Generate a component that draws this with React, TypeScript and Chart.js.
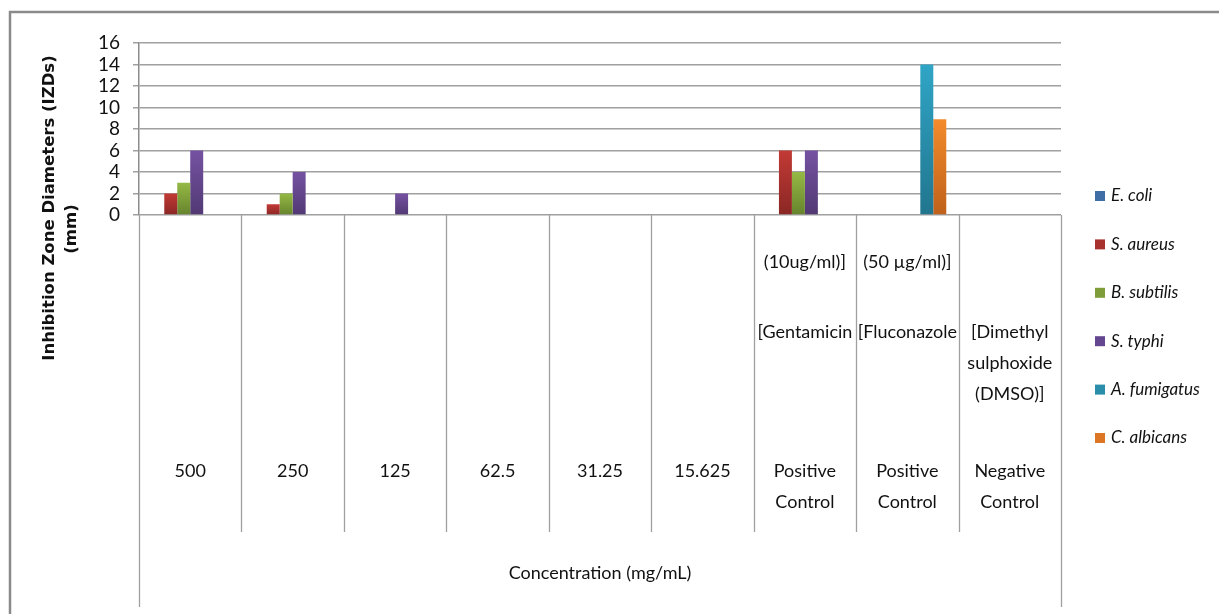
import React, { useEffect, useRef } from 'react';
import { Chart, registerables } from 'chart.js';

Chart.register(...registerables);

// ---------- data ----------
const categories = ['500', '250', '125', '62.5', '31.25', '15.625', 'Positive Control', 'Positive Control', 'Negative Control'];
const categoryLines: string[][] = [['500'], ['250'], ['125'], ['62.5'], ['31.25'], ['15.625'], ['Positive', 'Control'], ['Positive', 'Control'], ['Negative', 'Control']];
const agentLines: string[][] = [[], [], [], [], [], [], ['[Gentamicin'], ['[Fluconazole'], ['[Dimethyl', 'sulphoxide', '(DMSO)]']];
const doseLabels = ['', '', '', '', '', '', '(10ug/ml)]', '(50 µg/ml)]', ''];
const xGroupTitle = 'Concentration (mg/mL)';
const yTitleLines = ['Inhibition Zone Diameters (IZDs)', '(mm)'];
const yTicks = [0, 2, 4, 6, 8, 10, 12, 14, 16];

const seriesNames = ['E. coli', 'S. aureus', 'B. subtilis', 'S. typhi', 'A. fumigatus', 'C. albicans'];
const eColi = [0, 0, 0, 0, 0, 0, 0, 0, 0];
const sAureus = [2, 1, 0, 0, 0, 0, 6, 0, 0];
const bSubtilis = [3, 2, 0, 0, 0, 0, 4, 0, 0];
const sTyphi = [6, 4, 2, 0, 0, 0, 6, 0, 0];
const aFumigatus = [0, 0, 0, 0, 0, 0, 0, 14, 0];
const cAlbicans = [0, 0, 0, 0, 0, 0, 0, 8.9, 0];
const seriesValues = [eColi, sAureus, bSubtilis, sTyphi, aFumigatus, cAlbicans];

// ---------- styles ----------
const seriesTop = ['#4f81bd', '#c23a35', '#95b945', '#7552a2', '#30a5c6', '#f38b2c'];
const seriesBottom = ['#345a88', '#8a2724', '#66832d', '#513974', '#21758e', '#bf611b'];
const seriesMid = ['#3f6ea7', '#a8322e', '#7f9e3a', '#644690', '#2a8eab', '#dc7524'];

const FONT = 'Lato';
const TEXT = '#111111';
const LINE = '#a0a0a0';

const decorPlugin = {
  id: 'decor',
  afterDraw(chart: any) {
    const ctx: CanvasRenderingContext2D = chart.ctx;
    const area = chart.chartArea;
    const xs = chart.scales.x;
    const n = categories.length;
    ctx.save();

    // outer frame
    ctx.strokeStyle = '#8a8a8a';
    ctx.lineWidth = 2.5;
    ctx.beginPath();
    ctx.moveTo(10, 640);
    ctx.lineTo(10, 12);
    ctx.lineTo(1240, 12);
    ctx.stroke();

    // category separators
    const bounds: number[] = [area.left];
    for (let i = 0; i < n - 1; i++) {
      bounds.push((xs.getPixelForValue(i) + xs.getPixelForValue(i + 1)) / 2);
    }
    bounds.push(area.right);
    ctx.strokeStyle = LINE;
    ctx.lineWidth = 1.3;
    bounds.forEach((b, i) => {
      const outer = i === 0 || i === bounds.length - 1;
      ctx.beginPath();
      ctx.moveTo(Math.round(b) + 0.5, area.bottom);
      ctx.lineTo(Math.round(b) + 0.5, outer ? 607 : 532);
      ctx.stroke();
    });

    // category labels
    ctx.fillStyle = TEXT;
    ctx.textAlign = 'center';
    ctx.textBaseline = 'middle';
    ctx.font = `18px ${FONT}`;
    for (let i = 0; i < n; i++) {
      const cx = xs.getPixelForValue(i);
      categoryLines[i].forEach((t, k) => ctx.fillText(t, cx, 471 + k * 31));
      agentLines[i].forEach((t, k) => ctx.fillText(t, cx, 332 + k * 31));
      if (doseLabels[i]) ctx.fillText(doseLabels[i], cx, 262);
    }
    ctx.fillText(xGroupTitle, (area.left + area.right) / 2, 573);

    // y title
    ctx.font = `bold 16.5px "DejaVu Sans"`;
    ctx.save();
    ctx.translate(50, 208);
    ctx.rotate(-Math.PI / 2);
    ctx.fillText(yTitleLines[0], 0, 0);
    ctx.restore();
    ctx.save();
    ctx.translate(72, 229);
    ctx.rotate(-Math.PI / 2);
    ctx.fillText(yTitleLines[1], 0, 0);
    ctx.restore();

    // legend
    ctx.textAlign = 'left';
    ctx.font = `italic 17px ${FONT}`;
    seriesNames.forEach((name, i) => {
      const y = 196 + i * 48.4;
      ctx.fillStyle = seriesMid[i];
      ctx.fillRect(1095, y - 5, 10, 10);
      ctx.fillStyle = TEXT;
      ctx.fillText(name, 1111, y);
    });

    ctx.restore();
  },
};

function barGradient(i: number) {
  return (c: any) => {
    const chart = c.chart;
    if (!chart.chartArea || c.type !== 'data') return seriesMid[i];
    const y = chart.scales.y;
    const top = y.getPixelForValue(c.raw || 0);
    const bottom = y.getPixelForValue(0);
    if (bottom - top < 1) return seriesMid[i];
    const g = chart.ctx.createLinearGradient(0, top, 0, bottom);
    g.addColorStop(0, seriesTop[i]);
    g.addColorStop(1, seriesBottom[i]);
    return g;
  };
}

export default function App() {
  const ref = useRef<HTMLCanvasElement>(null);
  useEffect(() => {
    if (!ref.current) return;
    const chart = new Chart(ref.current, {
      type: 'bar',
      data: {
        labels: categories,
        datasets: seriesNames.map((name, i) => ({
          label: name,
          data: seriesValues[i],
          backgroundColor: barGradient(i),
          borderWidth: 0,
          categoryPercentage: 0.76,
          barPercentage: 1,
        })),
      },
      options: {
        animation: false,
        responsive: false,
        layout: { padding: { left: 10, top: 43, right: 158, bottom: 399 } },
        plugins: { legend: { display: false }, tooltip: { enabled: false } },
        scales: {
          x: { display: false },
          y: {
            min: 0,
            max: 16,
            afterFit: (s: any) => { s.width = 129; },
            afterBuildTicks: (s: any) => { s.ticks = yTicks.map((v) => ({ value: v })); },
            ticks: { font: { family: FONT, size: 19, lineHeight: 1 }, color: TEXT, padding: 13, autoSkip: false },
            grid: { color: LINE, lineWidth: 1.5, tickLength: 6, drawTicks: true },
            border: { display: true, color: '#8c8c8c', width: 1.5 },
          },
        },
      },
      plugins: [decorPlugin],
    });
    return () => chart.destroy();
  }, []);
  return (
    <div style={{ position: 'absolute', left: 0, top: 0, width: 1219, height: 614, background: '#fff' }}>
      <canvas ref={ref} width={1219} height={614} style={{ display: 'block' }} />
    </div>
  );
}
